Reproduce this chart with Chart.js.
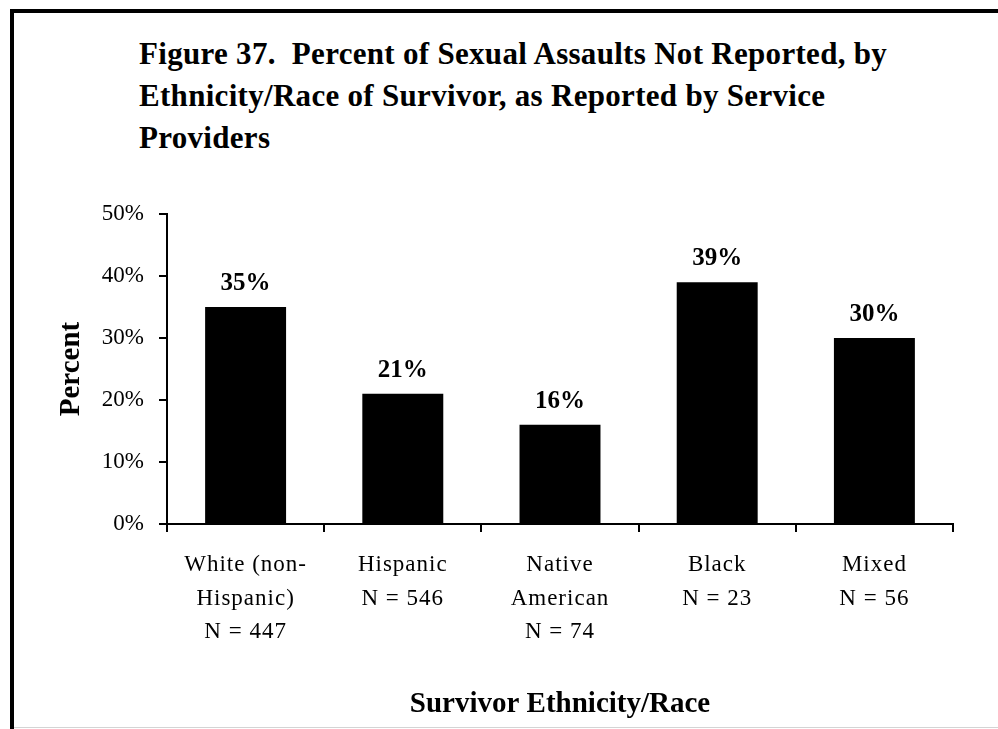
<!DOCTYPE html>
<html>
<head>
<meta charset="utf-8">
<script src="https://cdn.jsdelivr.net/npm/chart.js@4.4.1/dist/chart.umd.min.js"></script>
<style>
    html, body { margin: 0; padding: 0; background: #fff; overflow: hidden; }
    #wrap { position: relative; width: 998px; height: 729px; }
    #frame { position: absolute; left: 10px; top: 9px; width: 1000px; height: 730px;
             border-left: 4px solid #000; border-top: 4px solid #000; }
    #baseline { position: absolute; left: 14px; top: 727px; width: 984px; height: 1px; background: #d4d4d4; }
    #title { position: absolute; left: 139px; top: 33px; margin: 0;
             font: bold 31px 'Liberation Serif', 'Times New Roman', serif; line-height: 42px;
             letter-spacing: 0.3px; color: #000; white-space: pre; }
    canvas { position: absolute; left: 0; top: 0; }
</style>
</head>
<body>
<div id="wrap">
    <div id="frame"></div>
    <div id="baseline"></div>
    <h1 id="title">Figure 37.  Percent of Sexual Assaults Not Reported, by
Ethnicity/Race of Survivor, as Reported by Service
Providers</h1>
    <canvas id="chart" width="998" height="729"></canvas>
</div>
<script>
// Dados
const categories = [['White (non-', 'Hispanic)'], ['Hispanic'], ['Native', 'American'], ['Black'], ['Mixed']];
const sampleSizes = [447, 546, 74, 23, 56];
const percentNotReported = [35, 21, 16, 39, 30];
const yTicks = [0, 10, 20, 30, 40, 50];

const SERIF = "'Liberation Serif', 'Times New Roman', serif";
Chart.defaults.font.family = SERIF;
Chart.defaults.color = '#000';

// rótulo de valor em cima de cada barra
const barValues = {
    id: 'barValues',
    afterDatasetsDraw(chart) {
        const ctx = chart.ctx;
        const meta = chart.getDatasetMeta(0);
        ctx.save();
        ctx.font = 'bold 25px ' + SERIF;
        ctx.fillStyle = '#000';
        ctx.textAlign = 'center';
        ctx.textBaseline = 'alphabetic';
        meta.data.forEach((bar, i) => {
            ctx.fillText(percentNotReported[i] + '%', bar.x, bar.y - 17);
        });
        ctx.restore();
        // os rótulos do eixo x (z = 1) são desenhados logo depois, com espaçamento maior
        ctx.letterSpacing = '1px';
    },
    afterDraw(chart) {
        chart.ctx.letterSpacing = '0px';
    }
};

const labels = categories.map((c, i) => [...c, 'N = ' + sampleSizes[i]]);

new Chart(document.getElementById('chart'), {
    type: 'bar',
    data: {
        labels,
        datasets: [{
            data: percentNotReported,
            backgroundColor: '#000',
            borderWidth: 0,
            barPercentage: 0.515,
            categoryPercentage: 1
        }]
    },
    options: {
        responsive: false,
        animation: false,
        devicePixelRatio: 1,
        layout: { padding: { left: 40, right: 45, top: 214, bottom: 0 } },
        plugins: {
            legend: { display: false },
            tooltip: { enabled: false }
        },
        scales: {
            x: {
                afterFit: (scale) => { scale.height = 205; },
                grid: { display: true, drawOnChartArea: false, drawTicks: true, tickLength: 8, color: '#000', lineWidth: 2, offset: true },
                border: { display: true, color: '#000', width: 2 },
                ticks: {
                    z: 1,
                    maxRotation: 0, autoSkip: false, padding: 16.5,
                    font: { size: 23, lineHeight: 1.45 }, color: '#000'
                },
                title: {
                    display: true, text: 'Survivor Ethnicity/Race',
                    font: { size: 29, weight: 'bold', lineHeight: 1.2 }, color: '#000',
                    padding: { top: 0, bottom: 7 }
                }
            },
            y: {
                min: yTicks[0],
                max: yTicks[yTicks.length - 1],
                afterFit: (scale) => { scale.width = 127; },
                afterBuildTicks: (scale) => { scale.ticks = yTicks.map(v => ({ value: v })); },
                grid: { display: true, drawOnChartArea: false, drawTicks: true, tickLength: 8, color: '#000', lineWidth: 2 },
                border: { display: true, color: '#000', width: 2 },
                ticks: {
                    padding: 15,
                    font: { size: 23 }, color: '#000',
                    callback: (v) => v + '%'
                },
                title: {
                    display: true, text: 'Percent',
                    font: { size: 29, weight: 'bold', lineHeight: 1.2 }, color: '#000',
                    padding: { top: 14, bottom: 0 }
                }
            }
        }
    },
    plugins: [barValues]
});
</script>
</body>
</html>
